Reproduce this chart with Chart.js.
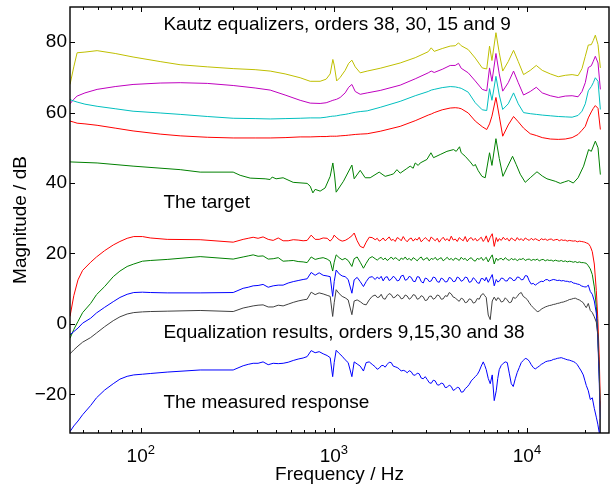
<!DOCTYPE html>
<html><head><meta charset="utf-8">
<script src="https://cdn.jsdelivr.net/npm/chart.js@4/dist/chart.umd.min.js"></script>
<style>html,body{margin:0;padding:0;background:#fff;}</style>
</head><body>
<canvas id="c" width="616" height="486"></canvas>
<script>
// ---------- axis ticks ----------
const xMajor = [100, 1000, 10000];
const xExp = ['2', '3', '4'];
const xMinor = [50,60,70,80,90,200,300,400,500,600,700,800,900,2000,3000,4000,5000,6000,7000,8000,9000,20000];
const yTicks = [-20, 0, 20, 40, 60, 80];

// ---------- Kautz equalizers (top group) ----------
const fTop = [43,45,46.8,51.4,59.4,73.7,91.2,126,160,221,301,391,468,559,669,754,849,912,957,988,1004,1034,1078,1144,1193,1240,1290,1369,1488,1738,2205,2638,3081,3193,3309,3639,4004,4252,4422,4566,4965,5397,5867,6190,6400,6587,6908,7187,7491,8000,8523,9015,9603,10402,11175,12002,13206,14525,15789,17131,18400,19275,20050,20781,21540,22057,22600,23336,24000];
const eqOrder38 = [68.0,73.0,77.0,77.2,77.6,76.8,75.8,74.5,73.6,73.0,72.5,72.2,71.8,71.0,69.9,68.9,68.9,69.5,71.0,75.1,73.5,69.0,70.0,72.0,74.0,74.9,73.0,71.3,71.8,72.6,74.1,75.6,77.3,78.4,77.4,78.2,78.9,79.0,79.8,79.0,77.9,75.5,72.7,72.4,78.9,74.8,82.7,77.0,71.8,74.5,77.7,74.5,70.8,72.0,73.4,72.0,71.0,70.2,70.6,70.8,70.5,72.5,76.0,79.2,79.3,80.5,82.0,79.3,72.7];
const eqOrder30 = [62.5,63.8,64.7,65.6,66.6,67.4,68.0,68.4,68.5,68.3,67.7,67.0,66.4,65.0,63.5,62.7,62.6,62.8,63.2,63.5,63.6,63.8,64.3,65.6,67.2,68.0,66.0,65.2,65.6,66.3,67.8,69.6,71.3,71.8,71.4,72.3,73.4,73.4,74.0,72.6,71.3,69.0,66.6,66.2,72.7,68.9,76.8,71.0,66.1,68.5,71.8,68.5,65.0,66.0,67.2,65.6,64.8,64.3,64.7,64.8,64.5,66.0,68.5,72.8,73.3,74.6,76.0,74.1,66.6];
const eqOrder15 = [63.7,63.3,63.0,62.4,61.8,61.1,60.4,59.9,59.5,58.9,58.4,58.3,58.2,58.3,58.4,58.5,58.5,58.7,58.9,59.0,59.0,59.1,59.3,59.5,59.7,59.9,60.1,60.3,60.5,61.5,63.2,64.8,66.0,66.4,66.6,67.1,67.4,67.3,67.1,66.9,65.8,62.8,60.8,60.6,66.8,63.5,70.3,65.0,60.9,62.5,65.6,62.5,60.0,59.7,59.5,59.3,59.1,58.9,58.8,58.7,59.2,60.4,62.5,66.2,67.4,68.5,69.9,68.9,60.9];
const eqOrder9 = [57.6,57.3,57.0,56.8,56.4,55.6,54.8,53.9,53.4,53.0,52.8,52.8,52.8,52.9,53.1,53.1,53.2,53.2,53.3,53.3,53.3,53.3,53.4,53.5,53.6,53.7,53.8,53.9,54.0,54.7,56.1,57.7,59.3,59.6,60.0,60.8,61.3,61.4,61.3,61.1,59.9,57.6,56.0,55.2,56.8,59.0,64.3,59.0,53.3,56.5,58.9,57.4,55.6,54.0,53.5,52.9,52.5,52.4,52.5,52.9,53.8,55.0,56.1,58.5,60.2,61.2,62.0,61.2,55.2];

// ---------- target ----------
const fTarget = [43,59.4,91.2,160,203,301,327,368.5,440.6,467.5,479,502,546,615.5,727,754,778.6,800,849,901,957,988,1009,1028,1121,1240,1274,1369,1453,1542,1717,1844,1958,2036,2121,2205,2370,2485,2575,2638,2734,2800,3034,3182,3282,3554,3851,4166,4302,4475,4566,4790,5085,5289,5397,5594,5846,6079,6401,6587,6908,7187,7508,7907,8421,8805,9233,9800,10402,11268,12002,12694,14016,14877,15607,16428,17374,18400,19648,20858,21540,22600,23336,24000];
const target = [46.0,45.7,44.8,43.8,43.1,43.1,42.2,41.4,41.2,41.0,41.7,41.2,41.5,40.2,39.9,39.1,37.2,38.2,37.7,38.6,41.9,45.7,42.0,37.4,40.5,45.1,41.2,43.6,41.5,41.5,43.1,41.9,42.3,42.6,43.8,42.8,44.0,44.8,44.2,45.7,45.0,45.7,46.7,48.6,47.2,48.1,49.0,49.5,49.0,50.3,48.6,47.6,46.0,44.8,45.3,43.5,41.9,41.5,48.6,45.0,52.6,47.0,41.9,44.5,47.6,45.2,42.5,40.2,41.5,43.2,42.0,41.2,40.5,39.9,40.3,40.7,40.0,41.5,44.8,49.5,49.0,51.9,50.0,42.4];

// ---------- equalization results and measured response (bottom group) ----------
const fBot = [43,45,47.3,50,55,59,65,72,78,85,92,102,112,137,203,301,339,360,382,405,430,457,485,515,546,580,616,653,693,727,763,800,839,880,923,957,986,1004,1028,1065,1104,1144,1186,1240,1274,1320,1369,1423,1470,1524,1579,
  1637,1677,1717,1758,1800,1844,1889,1934,1982,2029,2078,2128,2180,2232,2287,2341,2398,2456,2515,2576,2638,2702,2767,2834,2902,2973,3044,3118,3193,3270,3349,3430,3513,3597,3684,3773,3864,3958,4054,4151,4252,4355,4459,4567,4677,4790,4906,5024,5146,5270,5397,5528,5661,5798,5938,6044,6153,6302,6453,6610,6769,6934,7060,7187,7360,7540,7719,7907,8097,8295,8492,8700,8906,9125,9343,9568,9799,10037,10278,10527,10780,11041,11307,11580,11860,12148,12440,12742,13048,13364,13687,14016,14355,14703,15057,15421,15792,16174,16566,16963,17374,17794,18223,18663,19112,19574,19930,20291,
  20781,21284,21796,22324,22864,23276,23696,23980,24000];
const resOrder9 = [2.1,8.0,12.5,15.2,17.5,19.0,20.8,22.4,23.4,24.3,24.8,24.8,24.4,24.0,23.9,23.2,24.0,24.3,24.6,24.3,24.7,24.0,23.7,24.4,23.6,23.6,23.9,23.8,23.6,23.7,25.2,24.0,24.0,24.4,24.3,23.5,24.3,25.2,24.6,23.9,23.5,23.7,24.2,25.0,25.8,23.6,22.0,21.6,23.2,24.6,24.5,
  23.9,24.3,23.5,23.8,24.4,23.6,24.1,24.7,23.7,24.0,23.4,24.5,24.2,23.6,24.8,23.9,23.3,24.1,24.4,23.5,24.2,23.8,24.6,23.3,23.9,24.5,24.0,23.4,24.7,24.1,23.6,24.3,23.2,24.0,24.6,23.7,24.2,23.5,24.9,23.8,24.1,23.4,24.5,24.0,23.6,24.8,23.3,24.2,24.5,23.7,24.3,23.5,24.1,24.6,23.4,24.0,25.0,23.2,24.6,25.6,22.0,24.5,23.4,24.2,23.7,24.6,23.9,24.3,23.5,24.4,24.0,23.6,24.5,23.8,24.2,23.6,24.4,24.0,23.7,24.3,23.8,24.2,23.9,23.6,24.2,23.9,24.1,23.7,24.0,24.1,23.7,23.9,24.0,23.6,23.9,23.7,23.8,23.5,23.7,23.6,23.5,23.6,23.3,23.5,23.4,23.3,23.2,23.0,
  22.8,22.0,20.5,17.0,9.5,1.5,-10,-22,-40];
const resOrder15 = [-4.1,-1.6,0.7,3.2,5.8,8.3,10.6,13.4,15.0,16.3,17.0,17.8,18.0,18.3,19.1,18.4,19.0,19.3,19.6,19.2,19.3,18.4,18.5,18.8,17.8,17.9,18.0,17.7,17.6,17.4,19.0,18.3,18.6,18.8,18.4,17.8,15.0,17.5,19.6,18.8,18.2,18.6,18.0,16.3,18.5,19.0,17.5,15.8,17.2,18.6,19.1,
  18.5,18.1,18.6,18.9,18.2,18.7,18.0,18.4,19.0,18.3,18.8,18.5,17.9,18.7,18.3,19.0,18.2,18.6,18.0,18.8,18.4,17.9,18.6,19.0,18.1,18.5,18.8,17.9,18.6,18.3,18.9,18.1,18.5,18.8,17.9,18.4,18.9,18.2,18.6,18.0,18.7,18.4,18.0,18.9,18.3,18.6,17.9,18.5,18.8,18.1,17.8,18.6,18.3,18.9,18.0,18.5,18.9,17.6,18.7,19.6,17.0,18.7,18.0,18.4,18.6,18.1,18.8,18.3,18.0,18.6,18.2,18.5,17.9,18.4,18.3,18.6,18.0,18.3,18.4,18.0,18.3,18.1,18.4,17.9,18.2,18.3,17.9,18.2,18.0,18.1,17.8,18.1,17.9,17.8,18.0,17.7,17.9,17.6,17.8,17.7,17.5,17.7,17.4,17.6,17.4,17.4,17.3,17.2,
  16.5,15.6,14.0,10.5,5.0,-3.0,-15,-27,-40];
const resOrder30 = [-3.1,-2.2,-1.2,0.2,1.6,3.1,4.7,6.3,7.5,8.4,8.9,9.0,8.9,8.8,8.8,8.9,10.1,10.4,10.8,10.9,11.2,10.4,10.8,11.0,11.0,11.6,12.0,12.3,12.6,12.8,14.6,13.8,14.5,13.8,13.6,13.4,7.8,12.0,15.3,14.2,13.6,13.4,12.6,8.7,12.5,13.2,12.0,10.6,12.0,13.2,13.4,
  12.6,13.3,12.8,13.5,12.2,13.2,13.4,12.3,12.7,13.5,13.1,12.2,12.4,13.6,13.8,12.4,12.6,13.5,13.2,12.1,12.0,13.4,13.3,12.0,11.6,13.0,12.8,12.0,12.2,13.3,13.1,12.0,11.8,13.0,12.7,11.9,12.0,13.2,12.9,12.0,12.1,13.3,13.0,12.1,12.4,13.3,13.1,11.8,12.0,13.1,12.6,11.7,11.5,12.9,12.8,12.2,13.2,11.8,12.9,14.0,10.8,12.6,11.9,12.1,13.0,12.9,12.2,12.2,13.1,13.0,12.3,12.4,13.3,13.2,12.5,12.6,13.7,13.6,12.2,11.3,11.5,11.0,11.4,11.8,12.1,12.0,12.5,12.6,12.2,12.4,12.6,12.5,12.3,12.4,12.2,12.3,12.1,12.1,11.9,12.0,11.6,11.5,11.3,11.2,10.8,10.6,10.5,10.5,
  11.0,9.2,8.4,6.5,3.0,-4.0,-17,-29,-40];
const resOrder38 = [-8.5,-7.4,-6.3,-5.2,-3.9,-2.6,-0.8,0.9,2.0,2.8,3.2,3.4,3.5,3.6,3.8,3.5,4.5,4.8,5.1,5.3,5.4,4.8,4.8,5.3,5.1,5.6,6.1,6.5,6.8,7.0,9.0,8.3,8.8,8.5,8.1,7.8,2.1,6.0,9.7,8.6,7.8,7.4,6.8,2.6,6.5,6.8,6.3,5.6,5.4,6.8,7.8,
  8.2,7.5,7.6,8.4,7.2,7.0,8.0,8.6,8.3,7.4,7.6,8.3,8.0,7.1,7.3,8.2,7.9,7.0,7.4,8.3,8.1,7.0,7.2,8.0,7.7,6.6,6.8,7.8,7.9,7.0,7.3,8.2,8.0,7.0,7.1,8.0,7.8,8.9,8.5,7.6,7.4,6.8,6.4,7.3,7.0,6.0,6.2,7.1,6.9,5.9,6.1,7.2,7.0,8.2,8.6,8.0,7.5,2.5,1.2,6.5,7.6,6.6,7.4,7.2,6.2,6.4,7.4,6.8,6.0,6.2,7.6,7.2,7.8,8.6,8.9,7.8,7.4,6.9,6.0,5.2,4.6,4.0,3.5,3.6,4.2,4.5,4.8,5.0,5.2,5.3,5.5,5.6,5.8,5.9,6.1,6.2,6.4,6.6,6.9,7.0,7.2,7.3,7.0,6.8,6.4,6.0,5.2,4.6,
  5.8,3.8,3.2,2.0,0.5,-3.0,-14,-27,-40];
const measured = [-30.6,-29.0,-27.6,-25.8,-23.2,-21.0,-18.8,-17.0,-15.7,-14.9,-14.5,-14.3,-14.1,-13.7,-13.1,-13.1,-11.9,-11.5,-11.2,-11.2,-10.8,-11.6,-11.2,-11.3,-11.2,-10.9,-10.4,-10.0,-9.7,-9.3,-7.6,-8.2,-7.9,-8.5,-9.0,-9.6,-15.0,-11.0,-7.5,-8.4,-9.2,-10.2,-11.0,-15.0,-10.8,-11.4,-12.0,-13.4,-11.0,-10.8,-11.5,
  -12.2,-12.9,-12.6,-11.9,-11.8,-12.3,-11.5,-10.9,-11.0,-12.0,-12.2,-12.4,-12.8,-13.4,-13.2,-13.4,-13.9,-13.3,-13.6,-14.5,-14.6,-14.0,-14.2,-15.4,-15.6,-15.0,-15.8,-16.7,-16.9,-16.0,-16.2,-17.3,-17.4,-16.8,-17.0,-18.1,-18.0,-17.4,-17.8,-18.9,-18.6,-18.0,-18.2,-19.4,-19.3,-18.4,-17.9,-17.2,-16.2,-15.6,-15.0,-14.4,-13.4,-12.0,-10.8,-11.8,-13.0,-15.5,-17.0,-14.5,-21.8,-19.0,-15.5,-13.0,-11.8,-11.2,-10.8,-11.0,-14.0,-17.0,-17.8,-15.6,-13.8,-12.4,-11.0,-10.4,-9.8,-10.0,-10.6,-11.6,-12.4,-12.8,-12.4,-12.0,-11.5,-11.2,-10.8,-10.6,-10.5,-10.4,-10.1,-10.0,-9.8,-9.7,-9.6,-9.8,-10.0,-10.2,-10.3,-10.5,-10.7,-11.0,-11.6,-12.5,-13.4,-14.5,-16.0,-17.5,
  -19.0,-21.5,-21.0,-24.0,-26.5,-28.5,-31.0,-35,-40];

// ---------- annotations (Hz, dB) ----------
const noteText = ['Kautz equalizers, orders 38, 30, 15 and 9', 'The target', 'Equalization results, orders 9,15,30 and 38', 'The measured response'];
const noteHz = [131, 131, 131, 131];
const noteDb = [83.4, 32.95, -4.06, -23.95];

const FONT = '"Liberation Sans", Arial, Helvetica, sans-serif';
Chart.defaults.font.family = FONT;
Chart.defaults.color = '#000';

const series = [
  {label: 'Measured response', f: fBot, v: measured, c: '#0000ff'},
  {label: 'Result order 38', f: fBot, v: resOrder38, c: '#404040'},
  {label: 'Result order 30', f: fBot, v: resOrder30, c: '#0000ff'},
  {label: 'Result order 15', f: fBot, v: resOrder15, c: '#008000'},
  {label: 'Result order 9', f: fBot, v: resOrder9, c: '#ff0000'},
  {label: 'Target', f: fTarget, v: target, c: '#008000'},
  {label: 'Equalizer order 9', f: fTop, v: eqOrder9, c: '#ff0000'},
  {label: 'Equalizer order 15', f: fTop, v: eqOrder15, c: '#00bfbf'},
  {label: 'Equalizer order 30', f: fTop, v: eqOrder30, c: '#bf00bf'},
  {label: 'Equalizer order 38', f: fTop, v: eqOrder38, c: '#bfbf00'}
];

const framePlugin = {
  id: 'frame',
  afterDatasetsDraw(chart) {
    const {ctx, chartArea: a, scales: {x: xs, y: ys}} = chart;
    const L = a.left, R = a.right, T = a.top, B = a.bottom;
    ctx.save();
    ctx.strokeStyle = '#000';
    ctx.lineWidth = 1;
    ctx.beginPath();
    for (const v of xMinor) {
      const p = Math.round(xs.getPixelForValue(v)) + 0.5;
      ctx.moveTo(p, B); ctx.lineTo(p, B - 3);
      ctx.moveTo(p, T); ctx.lineTo(p, T + 3);
    }
    for (const v of xMajor) {
      const p = Math.round(xs.getPixelForValue(v)) + 0.5;
      ctx.moveTo(p, B); ctx.lineTo(p, B - 5);
      ctx.moveTo(p, T); ctx.lineTo(p, T + 5);
    }
    for (const v of yTicks) {
      const p = Math.round(ys.getPixelForValue(v)) + 0.5;
      ctx.moveTo(L, p); ctx.lineTo(L + 5, p);
      ctx.moveTo(R, p); ctx.lineTo(R - 5, p);
    }
    ctx.stroke();
    ctx.lineWidth = 1.4;
    ctx.strokeRect(L, T, R - L, B - T);
    ctx.fillStyle = '#000';
    ctx.textBaseline = 'alphabetic';
    ctx.textAlign = 'left';
    xMajor.forEach((v, i) => {
      const p = xs.getPixelForValue(v);
      ctx.font = '19px ' + FONT;
      const w1 = ctx.measureText('10').width;
      ctx.font = '13px ' + FONT;
      const w2 = ctx.measureText(xExp[i]).width;
      const x0 = p - (w1 + w2) / 2;
      ctx.font = '19px ' + FONT;
      ctx.fillText('10', x0, B + 28.5);
      ctx.font = '13px ' + FONT;
      ctx.fillText(xExp[i], x0 + w1, B + 20.5);
    });
    ctx.font = '19px ' + FONT;
    noteText.forEach((t, i) => {
      ctx.fillText(t, xs.getPixelForValue(noteHz[i]), ys.getPixelForValue(noteDb[i]));
    });
    ctx.restore();
  }
};

new Chart(document.getElementById('c'), {
  type: 'line',
  data: {
    datasets: series.map(s => ({
      label: s.label,
      data: s.f.map((f, i) => ({x: f, y: s.v[i]})),
      borderColor: s.c,
      borderWidth: 1,
      pointRadius: 0,
      fill: false,
      tension: 0,
      borderJoinStyle: 'round'
    }))
  },
  options: {
    responsive: false,
    animation: false,
    events: [],
    layout: {padding: {left: 0, right: 7, top: 7, bottom: 0}},
    plugins: {legend: {display: false}, tooltip: {enabled: false}},
    scales: {
      x: {
        type: 'logarithmic', min: 43, max: 26600,
        grid: {display: false, drawTicks: false},
        border: {display: false},
        ticks: {display: false},
        title: {display: true, text: 'Frequency / Hz', font: {size: 19}, color: '#000', padding: {top: 0, bottom: 0}},
        afterFit(s) { s.height = 53; s.paddingLeft = 0; s.paddingRight = 0; }
      },
      y: {
        min: -31, max: 90,
        grid: {display: false, drawTicks: false},
        border: {display: false},
        ticks: {font: {size: 19}, color: '#000', padding: 3,
          callback: v => v < 0 ? '\u2212' + Math.abs(v) : String(v)},
        afterBuildTicks(s) { s.ticks = yTicks.map(v => ({value: v})); },
        title: {display: true, text: 'Magnitude / dB', font: {size: 19}, color: '#000', padding: {top: 9, bottom: 0}},
        afterFit(s) { s.width = 70; s.paddingTop = 0; s.paddingBottom = 0; }
      }
    }
  },
  plugins: [framePlugin]
});
</script>
</body></html>
